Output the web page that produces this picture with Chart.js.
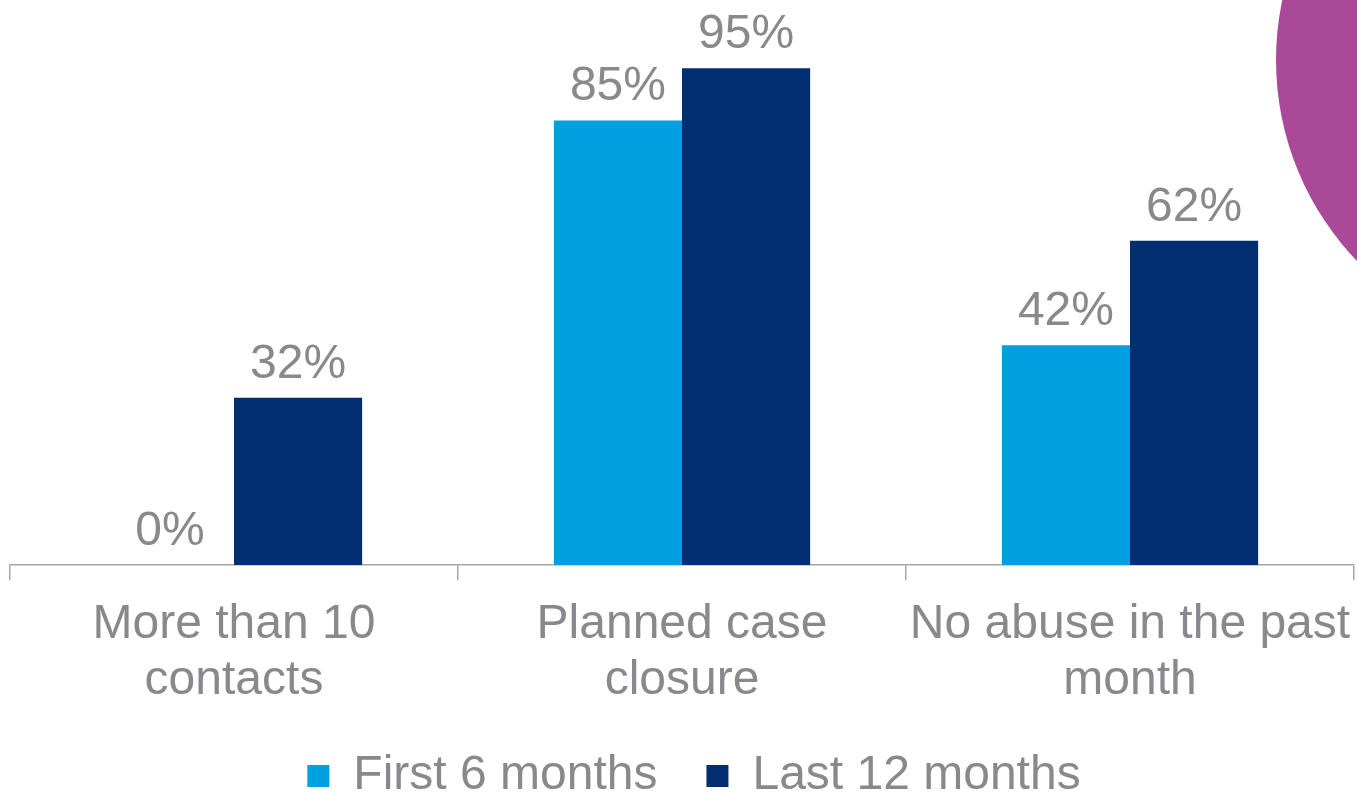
<!DOCTYPE html>
<html>
<head>
<meta charset="utf-8">
<script src="https://cdn.jsdelivr.net/npm/chart.js@4.4.1/dist/chart.umd.min.js"></script>
<style>
  html, body { margin: 0; padding: 0; background: #ffffff; }
  #wrap { width: 1357px; height: 792px; position: relative; }
</style>
</head>
<body>
<div id="wrap"><canvas id="chart"></canvas></div>
<script>
const categories = [["More than 10", "contacts"], ["Planned case", "closure"], ["No abuse in the past", "month"]];
const firstSixMonths = [0, 85, 42];
const lastTwelveMonths = [32, 95, 62];
const seriesNames = ["First 6 months", "Last 12 months"];

const TEXT_GREY = '#88898d';
const FONT = '"Liberation Sans", Arial, sans-serif';

// Decorative purple disc in the top-right corner
const cornerDisc = {
  id: 'cornerDisc',
  beforeDraw(chart) {
    const ctx = chart.ctx;
    ctx.save();
    ctx.fillStyle = '#a94997';
    ctx.beginPath();
    ctx.arc(1566, 60, 290, 0, Math.PI * 2);
    ctx.fill();
    ctx.restore();
  }
};

// Percentage labels above each bar
const valueLabels = {
  id: 'valueLabels',
  afterDatasetsDraw(chart) {
    const ctx = chart.ctx;
    ctx.save();
    ctx.font = '48px ' + FONT;
    ctx.fillStyle = TEXT_GREY;
    ctx.textAlign = 'center';
    ctx.textBaseline = 'alphabetic';
    chart.data.datasets.forEach((ds, i) => {
      chart.getDatasetMeta(i).data.forEach((bar, j) => {
        ctx.fillText(ds.data[j] + '%', bar.x, bar.y - 20);
      });
    });
    ctx.restore();
  }
};

// Nudge the centred legend row slightly to the right
const legendNudge = {
  id: 'legendNudge',
  afterLayout(chart) {
    if (chart.legend) {
      chart.legend.left += 12;
      chart.legend.right += 12;
    }
  }
};

new Chart(document.getElementById('chart'), {
  type: 'bar',
  data: {
    labels: categories,
    datasets: [
      { label: seriesNames[0], data: firstSixMonths, backgroundColor: '#009fdf' },
      { label: seriesNames[1], data: lastTwelveMonths, backgroundColor: '#002e6f' }
    ]
  },
  options: {
    responsive: true,
    maintainAspectRatio: false,
    animation: false,
    layout: { padding: { top: 42, left: 10, right: 3, bottom: -18 } },
    datasets: { bar: { barPercentage: 1.0, categoryPercentage: 0.572 } },
    scales: {
      x: {
        border: { display: true, color: '#a6a6a6', width: 1.5 },
        grid: { display: true, drawOnChartArea: false, drawTicks: true, tickLength: 15, color: '#a6a6a6', lineWidth: 1.5, offset: true },
        ticks: { color: TEXT_GREY, font: { family: FONT, size: 48, lineHeight: 1.18 }, maxRotation: 0, autoSkip: false, padding: 16 },
        afterFit(scale) {
          scale.height = 138;
          scale.paddingLeft = 0;
          scale.paddingRight = 0;
        }
      },
      y: {
        display: false,
        min: 0,
        max: 100
      }
    },
    plugins: {
      legend: {
        position: 'bottom',
        labels: {
          color: TEXT_GREY,
          font: { family: FONT, size: 48 },
          boxWidth: 22,
          boxHeight: 22,
          padding: 49
        }
      },
      tooltip: { enabled: false }
    }
  },
  plugins: [cornerDisc, valueLabels, legendNudge]
});
</script>
</body>
</html>
